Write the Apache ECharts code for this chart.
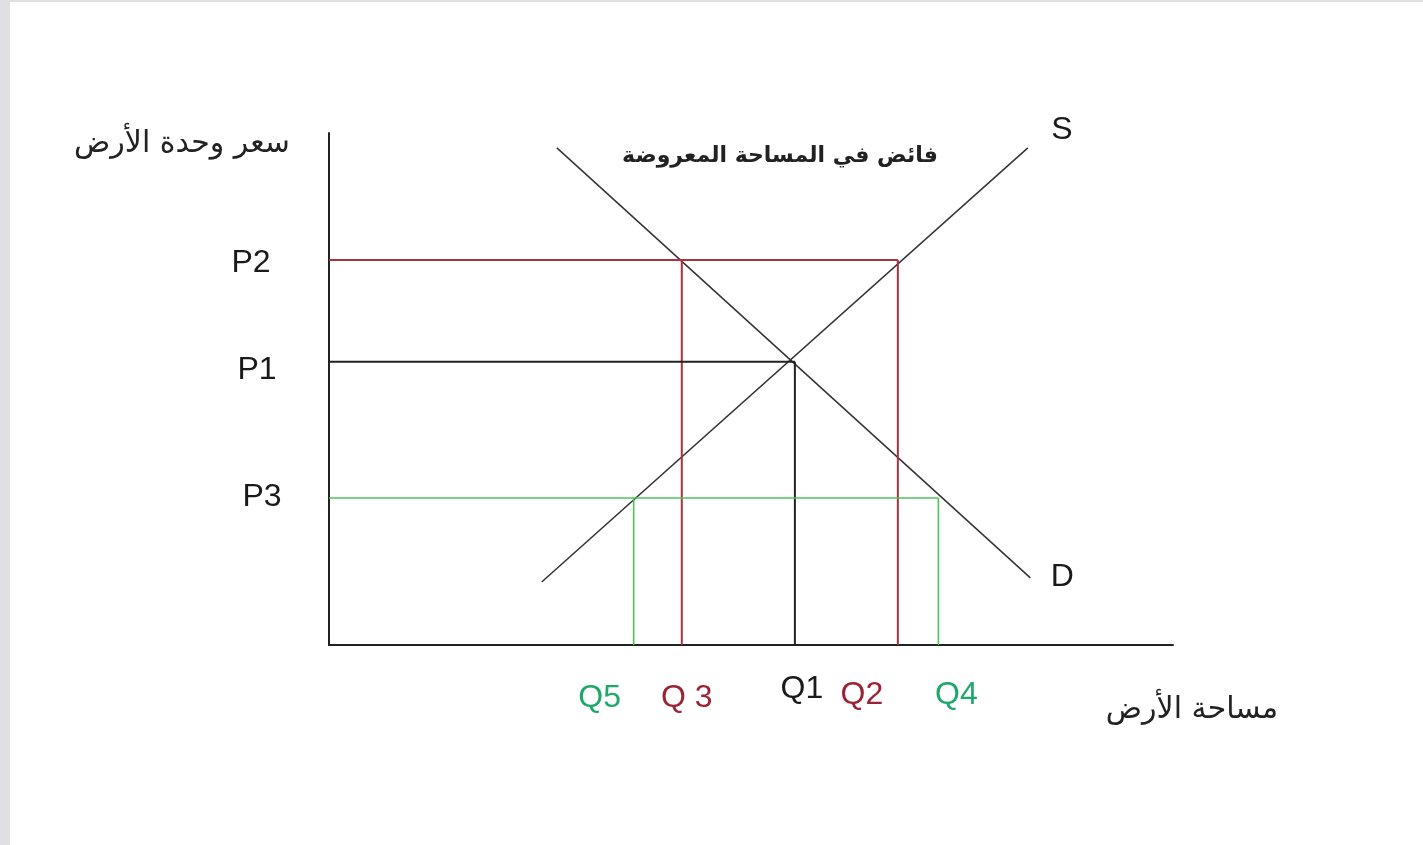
<!DOCTYPE html>
<html>
<head>
<meta charset="utf-8">
<script src="https://cdn.jsdelivr.net/npm/echarts@6/dist/echarts.min.js"></script>
<style>
html,body{margin:0;padding:0;width:1423px;height:845px;background:#dfe0e3;overflow:hidden;}
#chart{position:absolute;left:10px;top:2px;width:1413px;height:843px;background:#ffffff;}
</style>
</head>
<body>
<div id="chart"></div>
<script>
// ---- data (abstract units: quantity 0-100, price 0-100) ----
const demandQ = [27.0, 83.1];
const demandP = [97.1, 13.1];
const supplyQ = [25.2, 82.8];
const supplyP = [12.3, 97.1];
const priceNames = ['P1', 'P2', 'P3'];
const priceValues = [55.3, 75.2, 28.7];
const qNames = ['Q1', 'Q2', 'Q 3', 'Q4', 'Q5'];
const qValues = [55.2, 67.4, 41.8, 72.2, 36.1];
const curveNames = ['S', 'D'];
const titleText = 'فائض في المساحة المعروضة';
const yAxisTitle = 'سعر وحدة الأرض';
const xAxisTitle = 'مساحة الأرض';

// ---- styles ----
const RED = '#a83240', GREEN = '#4cc45c', BLACK = '#222222', CURVE = '#333333';
const RED_TXT = '#9a2436', GREEN_TXT = '#1fa86c';
const LATIN = 'Liberation Sans, Arial, sans-serif';
const ARABIC = 'DejaVu Sans, Noto Sans, sans-serif';

const P = n => priceValues[priceNames.indexOf(n)];
const Q = n => qValues[qNames.indexOf(n)];

function seg(name, pts, color, width) {
  return { type: 'line', name: name, data: pts, symbol: 'none', silent: true,
    lineStyle: { color: color, width: width }, z: 3, animation: false };
}

const qLabelStyle = {
  'Q1': { color: '#1a1a1a', offset: [7, 44] },
  'Q2': { color: RED_TXT, offset: [-36, 50] },
  'Q 3': { color: RED_TXT, offset: [5, 53] },
  'Q4': { color: GREEN_TXT, offset: [18, 50] },
  'Q5': { color: GREEN_TXT, offset: [-34, 53] }
};
const pLabelStyle = {
  'P1': { offset: [-72, 8] },
  'P2': { offset: [-78, 3] },
  'P3': { offset: [-67, -1] }
};

function labelSeries(items) {
  return { type: 'scatter', symbolSize: 0, silent: true, animation: false, clip: false,
    itemStyle: { opacity: 1 }, emphasis: { disabled: true }, data: items };
}

const series = [
  seg('D', demandQ.map((q, i) => [q, demandP[i]]), CURVE, 1.5),
  seg('S', supplyQ.map((q, i) => [q, supplyP[i]]), CURVE, 1.5),
  // P2 (red)
  seg('P2h', [[0, P('P2')], [Q('Q2'), P('P2')]], RED, 2),
  seg('Q3v', [[Q('Q 3'), P('P2')], [Q('Q 3'), 0]], RED, 2),
  seg('Q2v', [[Q('Q2'), P('P2')], [Q('Q2'), 0]], RED, 2),
  // P1 (black)
  seg('P1h', [[0, P('P1')], [Q('Q1'), P('P1')]], BLACK, 2),
  seg('Q1v', [[Q('Q1'), P('P1')], [Q('Q1'), 0]], BLACK, 2),
  // P3 (green)
  seg('P3h', [[0, P('P3')], [Q('Q4'), P('P3')]], GREEN, 1.6),
  seg('Q5v', [[Q('Q5'), P('P3')], [Q('Q5'), 0]], GREEN, 1.6),
  seg('Q4v', [[Q('Q4'), P('P3')], [Q('Q4'), 0]], GREEN, 1.6),
  // labels
  labelSeries(priceNames.map((n, i) => ({
    value: [0, priceValues[i]], name: n,
    label: { show: true, position: 'inside', formatter: n, offset: pLabelStyle[n].offset,
      color: '#1a1a1a', fontSize: 32, fontFamily: LATIN }
  }))),
  labelSeries(qNames.map((n, i) => ({
    value: [qValues[i], 0], name: n,
    label: { show: true, position: 'inside', formatter: n, offset: qLabelStyle[n].offset,
      color: qLabelStyle[n].color, fontSize: 32, fontFamily: LATIN }
  }))),
  labelSeries([
    { value: [supplyQ[1], supplyP[1]], label: { show: true, position: 'inside', formatter: curveNames[0], offset: [34, -18], color: '#1a1a1a', fontSize: 32, fontFamily: LATIN } },
    { value: [demandQ[1], demandP[1]], label: { show: true, position: 'inside', formatter: curveNames[1], offset: [32, -1], color: '#1a1a1a', fontSize: 32, fontFamily: LATIN } }
  ])
];

const chart = echarts.init(document.getElementById('chart'), null, { renderer: 'canvas' });
chart.setOption({
  animation: false,
  backgroundColor: '#ffffff',
  grid: { left: 319, top: 131, width: 844, height: 512, containLabel: false },
  xAxis: { type: 'value', min: 0, max: 100, splitLine: { show: false }, axisTick: { show: false },
    axisLabel: { show: false }, axisLine: { show: true, onZero: false, lineStyle: { color: BLACK, width: 2 } } },
  yAxis: { type: 'value', min: 0, max: 100, splitLine: { show: false }, axisTick: { show: false },
    axisLabel: { show: false }, axisLine: { show: true, onZero: false, lineStyle: { color: BLACK, width: 2 } } },
  graphic: [
    { type: 'text', style: { text: titleText, font: 'bold 22px ' + ARABIC, fill: '#222', textAlign: 'center', textVerticalAlign: 'middle', x: 770, y: 154 } },
    { type: 'text', style: { text: yAxisTitle, font: '30px ' + ARABIC, fill: '#222', textAlign: 'center', textVerticalAlign: 'middle', x: 172, y: 142 } },
    { type: 'text', style: { text: xAxisTitle, font: '30px ' + ARABIC, fill: '#222', textAlign: 'center', textVerticalAlign: 'middle', x: 1182, y: 708 } }
  ],
  series: series
});
</script>
</body>
</html>
